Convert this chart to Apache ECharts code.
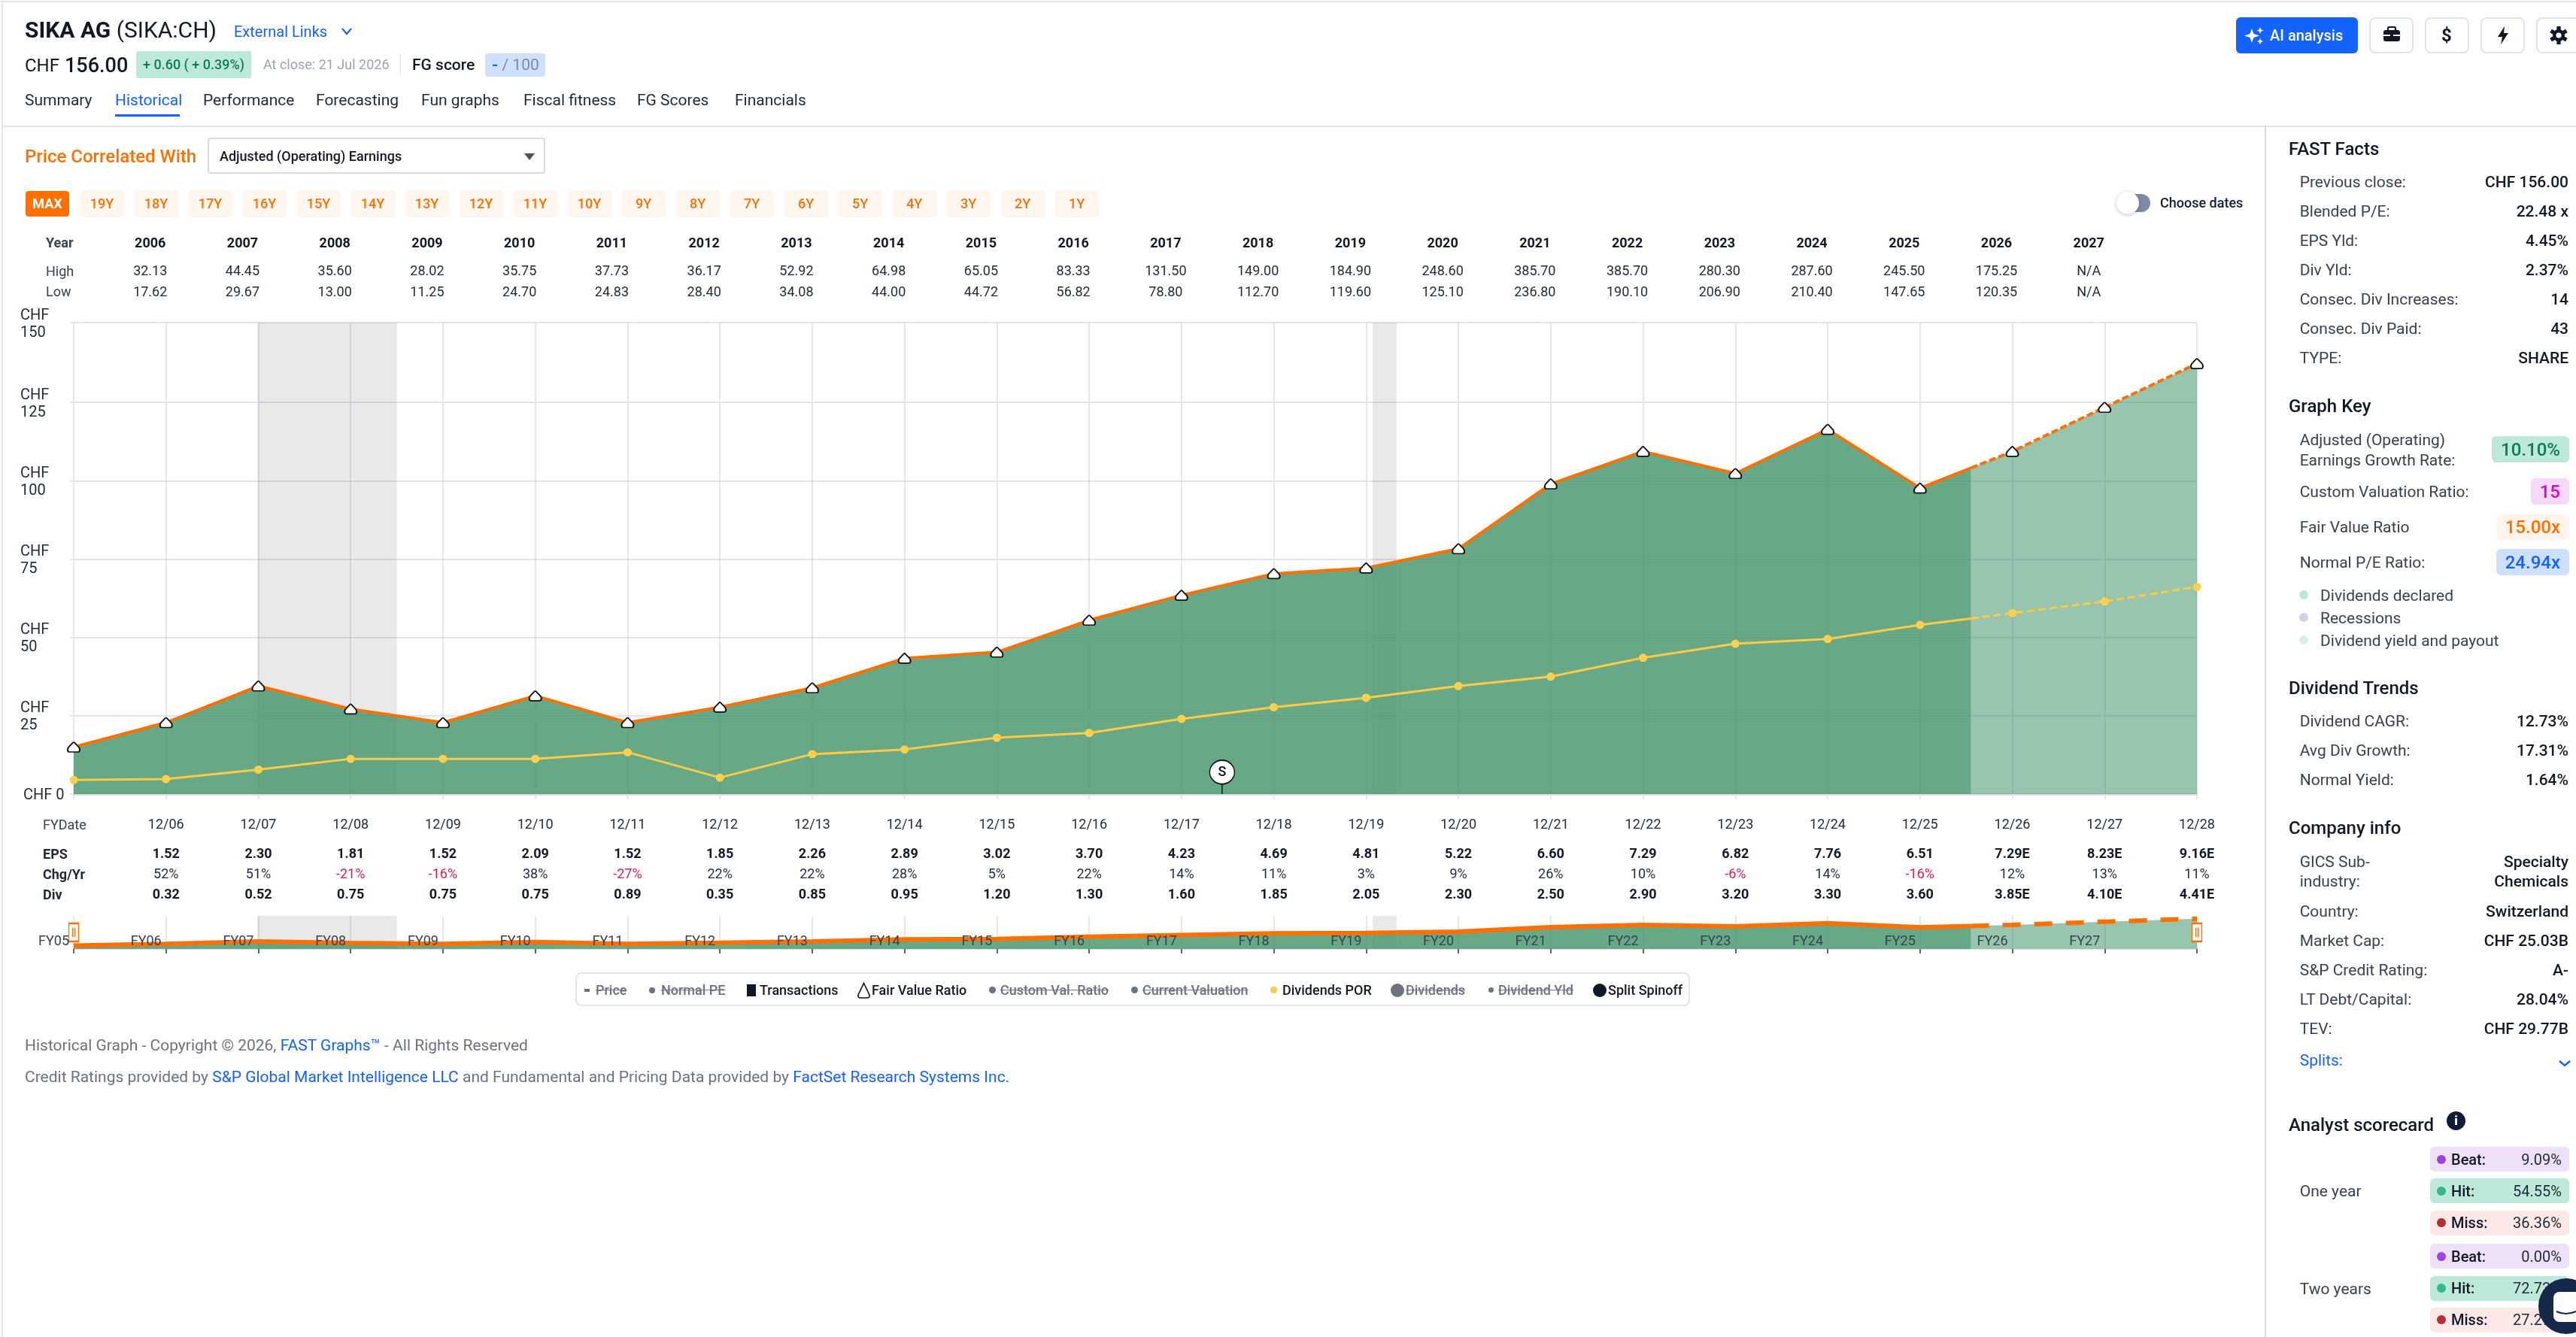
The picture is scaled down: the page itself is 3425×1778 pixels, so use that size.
<!DOCTYPE html>
<html>
<head>
<meta charset="utf-8">
<title>SIKA AG - Historical</title>
<script src="https://cdn.jsdelivr.net/npm/echarts@6/dist/echarts.min.js"></script>
<style>
html,body{margin:0;padding:0;width:3425px;height:1778px;background:#fff;overflow:hidden;font-family:Roboto,sans-serif;color:#111827}
#chart{position:absolute;left:0;top:0;width:3425px;height:1778px}
#ui{position:absolute;left:0;top:0;width:3425px;height:1778px;pointer-events:none}
.t{position:absolute;white-space:nowrap;line-height:1.2;transform:translateY(-50%)}
.r{transform:translate(-100%,-50%)}
.b{position:absolute;box-sizing:border-box}
.b svg{display:block}
.s{text-decoration:line-through;color:#6b7280;font-weight:500}
</style>
</head>
<body>
<div id="chart"></div>
<div id="ui"></div>
<script>
// ---------- chart data ----------
const axisYears = [2005,2006,2007,2008,2009,2010,2011,2012,2013,2014,2015,2016,2017,2018,2019,2020,2021,2022,2023,2024,2025,2026,2027,2028];
const fairValueRatio = [15,22.8,34.5,27.15,22.8,31.35,22.8,27.75,33.9,43.35,45.3,55.5,63.45,70.35,72.15,78.3,99,109.35,102.3,116.4,97.65,109.35,123.45,137.4];
const dividendsPor = [4.5,4.8,7.8,11.25,11.25,11.25,13.35,5.25,12.75,14.25,18,19.5,24,27.75,30.75,34.5,37.5,43.5,48,49.5,54,57.75,61.5,66.15];
const lastActualIndex = 20;
const todayX = 2025.553, todayFairValue = 104.1, todayDividend = 56.05;
const recessions = [[2006.99,2008.5],[2019.07,2019.33]];
const splitSpinoffs = [[2017.44,0]];
const yTicks = [0,25,50,75,100,125,150.5];

const fyDates = ['12/06','12/07','12/08','12/09','12/10','12/11','12/12','12/13','12/14','12/15','12/16','12/17','12/18','12/19','12/20','12/21','12/22','12/23','12/24','12/25','12/26','12/27','12/28'];
const epsRow = ['1.52','2.30','1.81','1.52','2.09','1.52','1.85','2.26','2.89','3.02','3.70','4.23','4.69','4.81','5.22','6.60','7.29','6.82','7.76','6.51','7.29E','8.23E','9.16E'];
const chgRow = [52,51,-21,-16,38,-27,22,22,28,5,22,14,11,3,9,26,10,-6,14,-16,12,13,11];
const divRow = ['0.32','0.52','0.75','0.75','0.75','0.89','0.35','0.85','0.95','1.20','1.30','1.60','1.85','2.05','2.30','2.50','2.90','3.20','3.30','3.60','3.85E','4.10E','4.41E'];
const tableYears = [2006,2007,2008,2009,2010,2011,2012,2013,2014,2015,2016,2017,2018,2019,2020,2021,2022,2023,2024,2025,2026,2027];
const highRow = ['32.13','44.45','35.60','28.02','35.75','37.73','36.17','52.92','64.98','65.05','83.33','131.50','149.00','184.90','248.60','385.70','385.70','280.30','287.60','245.50','175.25','N/A'];
const lowRow = ['17.62','29.67','13.00','11.25','24.70','24.83','28.40','34.08','44.00','44.72','56.82','78.80','112.70','119.60','125.10','236.80','190.10','206.90','210.40','147.65','120.35','N/A'];
const navLabels = ['FY05','FY06','FY07','FY08','FY09','FY10','FY11','FY12','FY13','FY14','FY15','FY16','FY17','FY18','FY19','FY20','FY21','FY22','FY23','FY24','FY25','FY26','FY27'];
const rangeButtons = ['19Y','18Y','17Y','16Y','15Y','14Y','13Y','12Y','11Y','10Y','9Y','8Y','7Y','6Y','5Y','4Y','3Y','2Y','1Y'];

// ---------- ECharts ----------
const FONT='Roboto';
const ORANGE='#ff7000', YELLOW='#ffcb45', GRID='#e2e3ec';
const histFair = axisYears.slice(0,lastActualIndex+1).map((x,i)=>[x,fairValueRatio[i]]).concat([[todayX,todayFairValue]]);
const futFair = [[todayX,todayFairValue]].concat(axisYears.slice(lastActualIndex+1).map((x,i)=>[x,fairValueRatio[lastActualIndex+1+i]]));
const histDiv = axisYears.slice(0,lastActualIndex+1).map((x,i)=>[x,dividendsPor[i]]).concat([[todayX,todayDividend]]);
const futDiv = [[todayX,todayDividend]].concat(axisYears.slice(lastActualIndex+1).map((x,i)=>[x,dividendsPor[lastActualIndex+1+i]]));
const HOUSE='path://M8 0.5 Q8.5 0.5 9 1 L14.5 6.5 Q16 8 16 10 Q16 13 13.5 13 L2.5 13 Q0 13 0 10 Q0 8 1.5 6.5 L7 1 Q7.5 0.5 8 0.5 Z';
const PIN='path://M16.5 1 A15.5 15.5 0 1 1 16.5 32 A15.5 15.5 0 1 1 16.5 1 Z M16.5 32 L16.5 45 L16.5 32 Z';
const HANDLE='path://M0 0 H13 V24 H0 Z M5 7 H5.2 V17 H5 Z M8 7 H8.2 V17 H8 Z';

function labelAxis(grid,min,max,margin,fmt,extra){
  return Object.assign({type:'value',gridIndex:grid,min:min,max:max,interval:1,position:'bottom',
    axisLine:{show:false},axisTick:{show:false},splitLine:{show:false},
    axisLabel:{show:true,margin:margin,hideOverlap:false,showMinLabel:true,showMaxLabel:true,fontFamily:FONT,fontSize:18,color:'#1f2937',formatter:fmt}},extra||{});
}
const bandItem=(params,api)=>{
  const a=api.coord([api.value(0),0])[0], b=api.coord([api.value(1),0])[0], c=params.coordSys;
  return {type:'rect',shape:{x:a,y:c.y,width:b-a,height:c.height},style:{fill:'rgba(0,0,0,0.085)'}};
};
const byYear=(arr,first)=>v=>{const i=Math.round(v)-first;return arr[i]===undefined?'':String(arr[i]);};
const G0='rgba(60,145,100,0.78)', G1='rgba(60,145,100,0.53)';

const option={
  animation:false,
  backgroundColor:'transparent',
  textStyle:{fontFamily:FONT},
  grid:[
    {left:98,top:429,width:2823,height:627},
    {left:98,top:1218,width:2823,height:44},
    {left:77,top:305,width:2823,height:1}
  ],
  xAxis:[
    {type:'value',gridIndex:0,min:2005,max:2028,interval:1,
      axisLine:{show:true,lineStyle:{color:'#d8dae5',width:3}},
      axisTick:{show:true,length:7,lineStyle:{color:GRID,width:1.7}},
      axisLabel:{show:false},
      splitLine:{show:true,lineStyle:{color:GRID,width:1.7,type:'solid'}}},
    labelAxis(0,2005,2028,32,byYear(fyDates,2006)),
    labelAxis(0,2005,2028,71,v=>{const s=byYear(epsRow,2006)(v);return s?'{b|'+s+'}':'';}),
    labelAxis(0,2005,2028,98,v=>{const n=chgRow[Math.round(v)-2006];if(n===undefined)return '';return (n<0?'{n|':'{p|')+n+'%}';}),
    labelAxis(0,2005,2028,125,v=>{const s=byYear(divRow,2006)(v);return s?'{b|'+s+'}':'';}),
    {type:'value',gridIndex:1,min:2005,max:2028,interval:1,
      axisLine:{show:true,lineStyle:{color:'#e3e4ec',width:1}},
      axisTick:{show:true,length:6,lineStyle:{color:'#333',width:1.5}},
      axisLabel:{show:false},
      splitLine:{show:true,lineStyle:{color:GRID,width:1.7}}},
    labelAxis(1,2005,2028,1,byYear(navLabels,2005),{z:20}),
    labelAxis(2,2005,2028,9,v=>{const s=byYear(tableYears,2006)(v);return s?'{b|'+s+'}':'';}),
    labelAxis(2,2005,2028,46,byYear(highRow,2006)),
    labelAxis(2,2005,2028,74,byYear(lowRow,2006))
  ],
  yAxis:[
    {type:'value',gridIndex:0,min:0,max:150.5,
      axisLine:{show:false},
      axisTick:{show:true,length:5,customValues:yTicks,lineStyle:{color:GRID,width:2}},
      splitLine:{show:true,lineStyle:{color:GRID,width:2}},
      axisLabel:{show:true,customValues:yTicks,margin:71,align:'left',fontFamily:FONT,fontSize:20,lineHeight:23,color:'#1f2937',padding:[4,0,0,0],
        formatter:v=>v===0?'{z|CHF 0}':'CHF\n'+Math.floor(v),
        rich:{z:{fontFamily:FONT,fontSize:20,color:'#1f2937',padding:[0,0,0,4]}}}},
    {type:'value',gridIndex:1,min:0,max:150,show:false},
    {type:'value',gridIndex:2,min:0,max:1,show:false}
  ],
  series:[
    {name:'Recessions',type:'custom',xAxisIndex:0,yAxisIndex:0,z:1,silent:true,renderItem:bandItem,encode:{x:[0,1]},data:recessions},
    {name:'Fair Value Ratio',type:'line',xAxisIndex:0,yAxisIndex:0,z:3,showSymbol:false,data:histFair,
      lineStyle:{color:ORANGE,width:4},areaStyle:{color:G0,opacity:1}},
    {name:'Fair Value Ratio (estimates)',type:'line',xAxisIndex:0,yAxisIndex:0,z:3,showSymbol:false,data:futFair,
      lineStyle:{color:ORANGE,width:4,type:[9,4]},areaStyle:{color:G1,opacity:1}},
    {name:'Dividends POR',type:'line',xAxisIndex:0,yAxisIndex:0,z:4,showSymbol:false,data:histDiv,lineStyle:{color:YELLOW,width:3}},
    {name:'Dividends POR (estimates)',type:'line',xAxisIndex:0,yAxisIndex:0,z:4,showSymbol:false,data:futDiv,lineStyle:{color:YELLOW,width:3,type:[10,5]}},
    {name:'Dividends POR points',type:'scatter',xAxisIndex:0,yAxisIndex:0,z:5,symbol:'circle',symbolSize:11,itemStyle:{color:'#ffd04f',opacity:1},
      data:axisYears.map((x,i)=>[x,dividendsPor[i]])},
    {name:'Fair Value Ratio points',type:'scatter',xAxisIndex:0,yAxisIndex:0,z:6,symbol:HOUSE,symbolSize:[16,13],
      itemStyle:{color:'#fff',borderColor:'#111',borderWidth:1.8,opacity:1},data:axisYears.map((x,i)=>[x,fairValueRatio[i]])},
    {name:'Split Spinoff',type:'scatter',xAxisIndex:0,yAxisIndex:0,z:7,symbol:PIN,symbolSize:[33,45],symbolOffset:[0,'-50%'],
      itemStyle:{color:'#fff',borderColor:'#111',borderWidth:1.6,opacity:1},
      label:{show:true,position:'inside',offset:[0,-6],formatter:'S',fontFamily:FONT,fontSize:18,fontWeight:500,color:'#111'},
      data:splitSpinoffs},
    {name:'Recessions (navigator)',type:'custom',xAxisIndex:5,yAxisIndex:1,z:1,silent:true,renderItem:bandItem,encode:{x:[0,1]},data:recessions},
    {name:'Navigator',type:'line',xAxisIndex:5,yAxisIndex:1,z:3,showSymbol:false,data:histFair,
      lineStyle:{color:ORANGE,width:6},areaStyle:{color:G0,opacity:1}},
    {name:'Navigator (estimates)',type:'line',xAxisIndex:5,yAxisIndex:1,z:3,showSymbol:false,data:futFair,
      lineStyle:{color:ORANGE,width:6,type:[24,18]},areaStyle:{color:G1,opacity:1}},
    {name:'Navigator handles',type:'scatter',xAxisIndex:5,yAxisIndex:1,z:8,symbol:HANDLE,symbolSize:[13,24],
      itemStyle:{color:'#fff',borderColor:ORANGE,borderWidth:1.8,opacity:1},data:[[2005,75],[2028,75]]},
    {name:'_top',type:'line',xAxisIndex:7,yAxisIndex:2,data:[],silent:true},
    {name:'_rows',type:'line',xAxisIndex:1,yAxisIndex:0,data:[],silent:true},
    {name:'_navl',type:'line',xAxisIndex:6,yAxisIndex:1,data:[],silent:true}
  ]
};
// rich styles for table rows
[2,4,7].forEach(i=>{option.xAxis[i].axisLabel.rich={b:{fontFamily:FONT,fontSize:18,fontWeight:700,color:'#111827'}};});
option.xAxis[3].axisLabel.rich={n:{fontFamily:FONT,fontSize:18,color:'#e11d48'},p:{fontFamily:FONT,fontSize:18,color:'#1f2937'}};
option.xAxis[6].axisLabel.align='right';
option.xAxis[6].axisLabel.inside=true;
option.xAxis[6].axisLabel.padding=[0,6,0,0];
option.xAxis[6].axisLabel.color='#374151';

const chart=echarts.init(document.getElementById('chart'),null,{renderer:'canvas',width:3425,height:1778});
chart.setOption(option);

// ---------- page chrome (real text) ----------
const ui=document.getElementById('ui');
function T(x,y,html,css,right){const d=document.createElement('div');d.className='t'+(right?' r':'');d.style.cssText='left:'+x+'px;top:'+y+'px;'+(css||'');d.innerHTML=html;ui.appendChild(d);return d;}
function B(x,y,w,h,css,html){const d=document.createElement('div');d.className='b';d.style.cssText='left:'+x+'px;top:'+y+'px;width:'+w+'px;height:'+h+'px;'+(css||'');if(html)d.innerHTML=html;ui.appendChild(d);return d;}
const BLUE='#1463ff', LINE='#e2e4ea';
// frame lines
B(0,1,3425,2,'background:#e5e7ee');B(2,1,2,1777,'background:#e5e7ee');
B(3,167,3422,2,'background:'+LINE);B(3011,168,2,1610,'background:#d9dbe6');
// header
T(33,40,'<b style="font-weight:700">SIKA AG</b> (SIKA:CH)','font-size:30px');
T(311,42,'External Links','font-size:20px;color:'+BLUE);
B(453,36,16,12,'',`<svg width="16" height="12"><path d="M2 2 L8 9 L14 2" fill="none" stroke="${BLUE}" stroke-width="2.2"/></svg>`);
T(33,87,'CHF','font-size:24px');T(86,87,'156.00','font-size:27px;font-weight:500');
B(181,68,153,36,'background:#bde9da;border-radius:3px');
T(257.5,86,'+ 0.60 ( + 0.39%)','font-size:18px;font-weight:500;color:#0f7a5a;transform:translate(-50%,-50%)');
T(350,86,'At close: 21 Jul 2026','font-size:18px;color:#9ca3af');
B(532,72,1,28,'background:#e2e4ea');
T(548,87,'FG score','font-size:21px;font-weight:500');
B(645,71,80,31,'background:#cfe0ff;border-radius:4px');
T(654,87,'<span style="color:'+BLUE+';font-weight:700">-</span> / 100','font-size:21px;color:#7b8aa8');
[['Summary',33],['Historical',153],['Performance',270],['Forecasting',420],['Fun graphs',560],['Fiscal fitness',696],['FG Scores',847],['Financials',977]].forEach(a=>{
  T(a[1],134,a[0],'font-size:21px;'+(a[0]==='Historical'?'color:'+BLUE:'color:#1f2937'));
});
B(153,152,86,3,'background:'+BLUE);
// selector row
T(33,208,'Price Correlated With','font-size:24px;font-weight:500;color:'+ORANGE);
B(276,183,449,48,'border:2px solid #d9dbe4;border-radius:4px');
T(292,208,'Adjusted (Operating) Earnings','font-size:18px;font-weight:500;color:#111827');
B(697,204,14,9,'',`<svg width="14" height="9"><path d="M0 0 H14 L7 9 Z" fill="#4b5563"/></svg>`);
// range buttons
B(34,254,58,34,'background:'+ORANGE+';border-radius:4px');
T(63,271,'MAX','font-size:18px;font-weight:700;color:#fff;transform:translate(-50%,-50%)');
rangeButtons.forEach((s,i)=>{const x=105.6+72*i;
  B(x,253,60,36,'background:#fff6f0;border-radius:5px');
  T(x+30,271,s,'font-size:18px;font-weight:500;color:'+ORANGE+';transform:translate(-50%,-50%)');});
// toggle
B(2815,258,44,24,'background:#8089a8;border-radius:12px');
B(2814,255,30,30,'background:#fff;border-radius:50%;box-shadow:0 1px 5px rgba(0,0,0,.25)');
T(2872,270,'Choose dates','font-size:18px;font-weight:500;color:#111b3a');
// row headers of the tables
T(61,323,'Year','font-size:18px;font-weight:700;color:#374151');
T(61,361,'High','font-size:18px;color:#374151');
T(61,388,'Low','font-size:18px;color:#374151');
T(57,1097,'FYDate','font-size:18px;color:#374151');
T(57,1136,'EPS','font-size:18px;font-weight:700;color:#1f2937');
T(57,1163,'Chg/Yr','font-size:18px;font-weight:700;color:#1f2937');
T(57,1190,'Div','font-size:18px;font-weight:700;color:#1f2937');
// legend box
B(765,1293,1482,45,'border:2px solid #e3e5ec;border-radius:8px');
const LEG=1316.5;
function dot(cx,r,c){B(cx-r,LEG-r,2*r,2*r,'border-radius:50%;background:'+c);}
const lt=(x,s,on)=>T(x,LEG,s,'font-size:18px;'+(on?'font-weight:500;color:#111827':'')).classList.toggle('s',!on);
B(777,LEG-2,7,4,'background:#6b7280');lt(792,'Price',false);
dot(867,4,'#6b7280');lt(879,'Normal PE',false);
B(993,LEG-8,12,16,'background:#111827');lt(1010,'Transactions',true);
B(1139,LEG-11,19,23,'',`<svg width="19" height="23"><path d="M9.5 1.5 L17 17 Q17.5 21 14 21 L5 21 Q1.5 21 2 17 Z" fill="#fff" stroke="#111" stroke-width="1.6"/></svg>`);lt(1159,'Fair Value Ratio',true);
dot(1319,4.5,'#6b7280');lt(1330,'Custom Val. Ratio',false);
dot(1508,4.5,'#6b7280');lt(1519,'Current Valuation',false);
dot(1693,4.5,YELLOW);lt(1705,'Dividends POR',true);
dot(1858,9,'#6b7280');lt(1869,'Dividends',false);
dot(1982,3.5,'#6b7280');lt(1992,'Dividend Yld',false);
dot(2127,9,'#111827');lt(2138,'Split Spinoff',true);
// footer
const A=s=>'<span style="color:'+BLUE+'">'+s+'</span>';
T(33,1390.5,'Historical Graph - Copyright © 2026, '+A('FAST Graphs™')+' - All Rights Reserved','font-size:21px;color:#6b7280');
T(33,1432.5,'Credit Ratings provided by '+A('S&amp;P Global Market Intelligence LLC')+' and Fundamental and Pricing Data provided by '+A('FactSet Research Systems Inc.'),'font-size:21px;color:#6b7280');
// top-right buttons
B(2973,23,162,48,'background:'+BLUE+';border-radius:6px');
B(2983,33,28,28,'',`<svg width="28" height="28" viewBox="0 0 28 28"><path d="M11 5 L13.5 12 L21 14.5 L13.5 17 L11 24 L8.5 17 L1 14.5 L8.5 12 Z M22 3 L23.3 6.2 L26.5 7.5 L23.3 8.8 L22 12 L20.7 8.8 L17.5 7.5 L20.7 6.2 Z M22 18 L23.3 20.7 L26 22 L23.3 23.3 L22 26 L20.7 23.3 L18 22 L20.7 20.7 Z" fill="#fff"/></svg>`);
T(3018,47,'AI analysis','font-size:20px;font-weight:500;color:#fff');
[3150,3224,3298,3372].forEach(x=>B(x,23,59,48,'border:2px solid #e1e3ea;border-radius:8px'));
B(3168,33,24,26,'',`<svg width="24" height="26"><rect x="1" y="7" width="22" height="15" rx="3" fill="#111827"/><rect x="7" y="3" width="10" height="5" rx="1.5" fill="none" stroke="#111827" stroke-width="2.2"/><rect x="1" y="13" width="22" height="2" fill="#fff"/><rect x="10" y="12" width="4" height="4" fill="#111827"/></svg>`);
T(3253,47,'$','font-size:24px;font-weight:700;transform:translate(-50%,-50%)');
B(3319,34,18,26,'',`<svg width="18" height="26"><path d="M11 1 L2 15 H8 L6 25 L16 10 H10 Z" fill="#111827"/></svg>`);
B(3390,35,24,24,'',`<svg width="24" height="24" viewBox="-12 -12 24 24"><g fill="#111827"><circle r="8"/><rect x="-2.6" y="-12" width="5.2" height="24"/><rect x="-2.6" y="-12" width="5.2" height="24" transform="rotate(60)"/><rect x="-2.6" y="-12" width="5.2" height="24" transform="rotate(120)"/></g><circle r="3.6" fill="#fff"/></svg>`);
// sidebar
const LX=3057.7,RX=3415,HX=3043,DY=1.5;
const H=(y,s)=>T(HX,y,s,'font-size:24px;font-weight:500;color:#111827');
const L=(y,s,c)=>T(LX,y+DY,s,'font-size:21px;color:'+(c||'#374151'));
const V=(y,s)=>T(RX,y+DY,s,'font-size:21px;font-weight:500;color:#111827',true);
const fastFacts=[['Previous close:','CHF 156.00',241],['Blended P/E:','22.48 x',280.5],['EPS Yld:','4.45%',319.5],['Div Yld:','2.37%',358.5],['Consec. Div Increases:','14',397.5],['Consec. Div Paid:','43',436.5],['TYPE:','SHARE',475.5]];
H(197.5,'FAST Facts');fastFacts.forEach(r=>{L(r[2],r[0]);V(r[2],r[1]);});
H(539.5,'Graph Key');
L(584,'Adjusted (Operating)');L(611,'Earnings Growth Rate:');
function badge(x,y,h,bg,col,s){B(x,y,3416-x,h,'background:'+bg+';border-radius:6px');T(3404,y+h/2,s,'font-size:24px;font-weight:500;color:'+col,true);}
badge(3313,580,35,'#bde9da','#0f7a5a','10.10%');
L(653,'Custom Valuation Ratio:');badge(3365,636,35,'#f5d9f7','#e000d8','15');
L(700,'Fair Value Ratio');badge(3319,684,34,'#fff4ec',ORANGE,'15.00x');
L(747.5,'Normal P/E Ratio:');badge(3319,730,35,'#cfe0ff',BLUE,'24.94x');
[['Dividends declared','#bde9da',791],['Recessions','#d1d3e0',821],['Dividend yield and payout','#d7f0ec',851]].forEach(a=>{B(3057,a[2]-6,12,12,'border-radius:50%;background:'+a[1]);T(3085,a[2]+DY,a[0],'font-size:21px;color:#374151');});
H(914.5,'Dividend Trends');
[['Dividend CAGR:','12.73%',958.5],['Avg Div Growth:','17.31%',997.5],['Normal Yield:','1.64%',1036.5]].forEach(r=>{L(r[2],r[0]);V(r[2],r[1]);});
H(1101,'Company info');
L(1145,'GICS Sub-');L(1171.5,'industry:');V(1145,'Specialty');V(1171.5,'Chemicals');
[['Country:','Switzerland',1211],['Market Cap:','CHF 25.03B',1250],['S&amp;P Credit Rating:','A-',1289],['LT Debt/Capital:','28.04%',1328],['TEV:','CHF 29.77B',1367]].forEach(r=>{L(r[2],r[0]);V(r[2],r[1]);});
L(1409,'Splits:',BLUE);
B(3401,1409,18,10,'',`<svg width="18" height="10"><path d="M2 2 L9 8 L16 2" fill="none" stroke="${BLUE}" stroke-width="2.4"/></svg>`);
H(1496,'Analyst scorecard');
B(3253,1478,25,25,'border-radius:50%;background:#111b3a');T(3265.5,1490,'i','font-size:17px;font-weight:900;color:#fff;transform:translate(-50%,-50%)');
L(1583.5,'One year');L(1713,'Two years');
const score=[['Beat:','9.09%',1541.5,'p'],['Hit:','54.55%',1583.5,'g'],['Miss:','36.36%',1626,'r'],['Beat:','0.00%',1670.5,'p'],['Hit:','72.73%',1713,'g'],['Miss:','27.27%',1755,'r']];
const sc={p:['#eee0f7','#9b44e0'],g:['#bde9da','#35b88f'],r:['#fde8e8','#b33030']};
score.forEach(r=>{B(3231,r[2]-16.5,185,33,'border-radius:6px;background:'+sc[r[3]][0]);
  B(3240,r[2]-6,12,12,'border-radius:50%;background:'+sc[r[3]][1]);
  T(3259,r[2],r[0],'font-size:20px;font-weight:500;color:#111827');
  T(3406,r[2],r[1],'font-size:20px;color:#1f2937',true);});
// chat bubble
B(3375,1700,74,74,'border-radius:50%;background:#17294a');
B(3395,1718,50,40,'border-radius:8px;background:#fff');
B(3398,1742,28,10,'',`<svg width="28" height="10"><path d="M1 2 Q13 8 27 2" fill="none" stroke="#17294a" stroke-width="2"/></svg>`);
</script>
</body>
</html>
